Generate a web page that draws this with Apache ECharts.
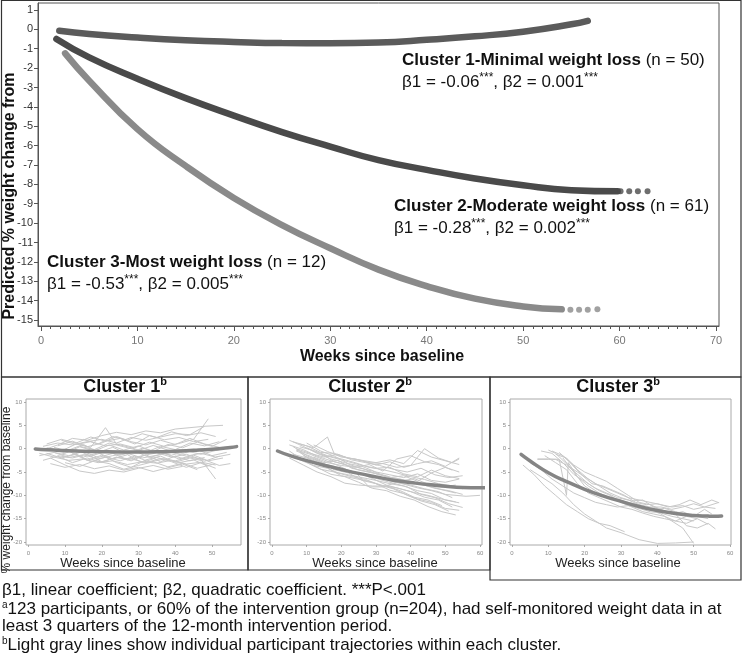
<!DOCTYPE html>
<html><head><meta charset="utf-8">
<script src="https://cdn.jsdelivr.net/npm/echarts@6/dist/echarts.min.js"></script>
<style>html,body{margin:0;padding:0;background:#fff}#c{width:742px;height:662px}</style>
</head><body><div id="c"></div>
<script>
const FONT = '"Liberation Sans", Arial, Helvetica, sans-serif';

// ---- Main panel: predicted trajectories ----
const c1Weeks = [1.9, 5, 10, 15, 20, 25, 30, 35, 40, 45, 50, 55, 56.7];
const c1Pred  = [-0.07, -0.24, -0.42, -0.56, -0.65, -0.71, -0.72, -0.68, -0.54, -0.36, -0.12, 0.26, 0.44];
const c2Weeks = [1.6, 5, 10, 15, 20, 25, 30, 35, 40, 45, 50, 55, 59.8];
const c2Pred  = [-0.5, -1.45, -2.55, -3.55, -4.45, -5.3, -6.05, -6.75, -7.25, -7.7, -8.05, -8.3, -8.36];
const c2EndWeeks = [60.1, 61.0, 61.9, 62.9];
const c2EndPred  = [-8.36, -8.36, -8.36, -8.36];
const c3Weeks = [2.5, 5, 10, 15, 20, 25, 30, 35, 40, 45, 50, 54];
const c3Pred  = [-1.24, -2.65, -5.15, -7.05, -8.7, -10.1, -11.3, -12.4, -13.25, -13.9, -14.3, -14.45];
const c3EndWeeks = [54.9, 55.8, 56.7, 57.7];
const c3EndPred  = [-14.47, -14.47, -14.47, -14.45];

const mainXTicks = [0, 10, 20, 30, 40, 50, 60, 70];
const mainYTicks = [1, 0, -1, -2, -3, -4, -5, -6, -7, -8, -9, -10, -11, -12, -13, -14, -15];
const smallYTicks = [10, 5, 0, -5, -10, -15, -20];
const small1XTicks = [0, 10, 20, 30, 40, 50];
const small23XTicks = [0, 10, 20, 30, 40, 50, 60];

// ---- Individual participant trajectories ([week, % change]) ----
const c1Traj = [
 [[4,0.5],[8,1.2],[12,0.8],[16,1.5],[20,2.0],[24,1.2],[28,2.4],[32,1.8],[36,2.5],[40,3.2],[44,3.0],[48,4.8]],
 [[3,-1.0],[7,-1.8],[11,-2.5],[15,-2.2],[19,-3.0],[23,-2.6],[27,-3.4],[31,-2.8],[35,-3.1],[39,-2.5],[43,-3.3],[47,-2.9],[51,-3.5]],
 [[5,0.2],[9,-0.5],[13,1.0],[17,0.3],[21,4.5],[24,1.0],[28,0.2],[32,-0.8],[36,0.5],[40,-0.2],[44,1.2],[48,0.6],[52,1.5]],
 [[6,-2.0],[10,-3.5],[14,-4.8],[18,-5.3],[22,-4.6],[26,-5.0],[30,-4.2],[34,-3.6],[38,-4.4],[42,-3.8]],
 [[4,-0.3],[8,0.8],[12,2.2],[16,1.8],[20,2.8],[24,3.5],[28,3.0],[32,3.8],[36,3.4],[40,4.2],[44,4.5],[48,4.8],[53,5.0]],
 [[8,-1.5],[12,-2.0],[16,-1.2],[20,-2.8],[24,-1.9],[28,-2.2],[32,-3.0],[36,-2.1],[40,-2.6],[44,-1.8],[48,-2.4],[52,-3.6],[55,-3.2]],
 [[5,1.0],[9,2.0],[13,1.2],[17,2.5],[21,1.6],[25,2.2],[29,1.0],[33,2.8],[37,1.9],[41,2.4],[45,1.5],[49,2.0]],
 [[7,-0.8],[11,-1.5],[15,-0.6],[19,-1.9],[23,-1.0],[27,-2.4],[31,-1.5],[35,-0.9],[39,-1.8],[43,-1.2],[47,-2.3],[51,-6.5]],
 [[10,-3.0],[14,-3.8],[18,-2.6],[22,-3.2],[26,-4.4],[30,-3.6],[34,-2.8],[38,-3.9],[42,-3.1],[46,-4.2],[50,-3.4]],
 [[6,0.0],[10,-0.9],[14,0.4],[18,-0.5],[22,0.8],[26,-0.3],[30,0.6],[34,-0.6],[38,0.9],[42,0.2],[46,1.4],[50,0.5],[54,2.0]],
 [[9,1.8],[13,0.9],[17,1.5],[21,0.6],[25,1.0],[29,0.2],[33,1.4],[37,0.5],[41,1.1],[45,2.0],[49,6.4]],
 [[3,-1.5],[7,-0.8],[11,-1.9],[15,-1.3],[19,-2.2],[23,-1.5],[27,-1.0],[31,-2.0],[35,-1.4],[39,-0.8],[43,-1.6],[47,-1.0],[51,-1.8],[55,-1.2]],
 [[12,-1.0],[16,-2.5],[20,-1.4],[24,-3.0],[28,-4.0],[32,-2.4],[36,-1.6],[40,-2.9],[44,-2.0],[48,-2.7],[52,-1.6]],
 [[14,0.5],[18,-0.2],[22,1.2],[26,0.4],[30,-0.4],[34,0.7],[38,-0.3],[42,-1.0],[46,-0.2],[50,-1.5],[54,-0.8]],
 [[5,-1.0],[9,-2.0],[13,-1.2],[17,-2.8],[21,-1.8],[25,-2.6],[29,-1.6],[33,-2.9],[37,-2.2],[41,-3.0],[45,-2.4],[49,-3.8]],
 [[8,0.6],[12,1.6],[16,0.4],[20,1.2],[24,2.6],[28,1.5],[32,0.8],[36,1.8],[40,0.9],[44,2.2],[48,1.0],[52,0.3]],
 [[4,-2.5],[8,-1.6],[12,-3.0],[16,-2.0],[20,-2.9],[24,-1.8],[28,-2.6],[32,-1.3],[36,-2.8],[40,-1.6],[44,-2.6],[48,-1.9]],
 [[11,-0.3],[15,0.9],[19,-0.8],[23,0.3],[27,-1.2],[31,0.1],[35,-0.7],[39,-1.4],[43,-0.5],[47,-1.2],[51,-0.4],[55,0.4]],
 [[6,-3.2],[10,-4.0],[14,-3.4],[18,-4.3],[22,-3.7],[26,-4.6],[30,-4.0],[34,-4.9],[38,-4.1],[42,-3.3],[46,-4.5]],
 [[15,2.0],[19,1.0],[23,2.6],[27,1.8],[31,3.2],[35,2.4],[39,3.6],[43,2.8],[47,3.4],[51,2.6]],
 [[9,-1.2],[13,-0.2],[17,-1.6],[21,-0.6],[25,-1.4],[29,-0.5],[33,-1.9],[37,-1.0],[41,-2.2],[45,-1.4],[49,-2.6],[53,-2.0]],
 [[7,0.3],[11,-0.6],[15,-1.8],[19,-0.9],[23,-2.2],[27,-1.3],[31,-3.0],[35,-1.9],[39,-2.8],[43,-4.0],[47,-3.0],[51,-4.2]]
];
const c2Traj = [
 [[5,1.8],[9,0.5],[13,-1.0],[17,-2.2],[21,-3.0],[25,-4.1],[29,-4.8],[33,-6.0],[37,-6.5],[41,-7.4],[45,-8.0],[49,-8.8],[53,-9.5]],
 [[6,0.5],[10,-1.5],[14,-2.8],[18,-4.5],[22,-5.2],[26,-6.8],[30,-7.5],[34,-8.9],[38,-9.6],[42,-10.8],[46,-11.5],[50,-12.8],[54,-13.2]],
 [[8,1.0],[12,0.2],[16,2.5],[18,-1.2],[22,-2.0],[26,-2.6],[30,-3.5],[34,-2.8],[38,-4.0],[42,-3.2],[46,-2.6],[50,-3.8],[54,-2.0]],
 [[4,-1.0],[8,-2.2],[12,-3.6],[16,-4.2],[20,-5.8],[24,-6.4],[28,-7.0],[32,-7.9],[36,-8.4],[40,-9.2],[44,-10.4],[48,-11.0],[52,-12.5]],
 [[7,0.0],[11,-1.0],[15,-1.8],[19,-1.2],[23,-2.4],[27,-3.0],[31,-3.6],[35,-4.4],[39,-5.0],[43,-4.2],[47,-5.6],[51,-6.2],[55,-5.8]],
 [[5,-0.5],[9,-2.5],[13,-4.0],[17,-5.5],[21,-6.0],[25,-7.2],[29,-8.5],[33,-9.0],[37,-10.2],[41,-11.0],[45,-12.4],[49,-13.5],[53,-14.2]],
 [[10,1.2],[14,-0.5],[18,-1.6],[22,-3.2],[26,-3.8],[30,-5.0],[34,-5.6],[38,-6.2],[42,-5.4],[46,-6.8],[50,-7.2],[54,-6.5]],
 [[6,-1.2],[10,-2.0],[14,-3.1],[18,-3.8],[22,-4.6],[26,-5.5],[30,-6.0],[34,-6.9],[38,-7.6],[42,-8.4],[46,-9.0],[50,-9.8],[56,-10.2],[60,-10.0]],
 [[8,-0.8],[12,-2.8],[16,-3.5],[20,-4.4],[24,-5.0],[28,-8.2],[32,-8.2],[36,-7.2],[40,-7.8],[44,-8.6],[48,-9.2],[52,-10.5]],
 [[5,0.8],[9,-0.2],[13,-1.6],[17,-2.6],[21,-3.4],[25,-4.6],[29,-5.2],[33,-5.8],[37,-7.0],[41,-6.4],[45,-7.6],[49,-8.2],[53,-7.8]],
 [[12,-1.8],[16,-3.0],[20,-3.6],[24,-4.0],[28,-3.4],[32,-4.8],[36,-2.2],[40,-1.5],[44,-2.8],[48,-3.4],[52,-4.6]],
 [[7,-0.3],[11,-1.2],[15,-2.4],[19,-3.6],[23,-5.0],[27,-5.6],[31,-6.6],[35,-7.4],[39,-8.2],[43,-9.8],[47,-10.5],[51,-11.8],[55,-12.6]],
 [[9,-1.5],[13,-2.6],[17,-4.0],[21,-4.8],[25,-5.2],[29,-6.4],[33,-7.8],[37,-8.6],[41,-9.4],[45,-10.0],[49,-10.8],[53,-11.4]],
 [[6,1.5],[10,0.6],[14,-0.8],[18,-1.0],[22,-2.0],[26,-2.5],[30,-3.0],[34,-2.4],[38,-3.2],[42,-0.4],[46,-1.8],[50,-2.6],[54,-3.4]],
 [[11,-2.4],[15,-3.8],[19,-5.2],[23,-6.0],[27,-6.6],[31,-7.8],[35,-8.6],[39,-10.0],[43,-11.2],[47,-12.0],[51,-13.4]],
 [[8,0.4],[12,-0.4],[16,-1.5],[20,-2.2],[24,-3.0],[28,-4.0],[32,-4.5],[36,-5.2],[40,-6.0],[44,-6.6],[48,-7.5],[52,-8.0],[55,-8.6]],
 [[14,-1.0],[18,-2.8],[22,-3.6],[26,-4.2],[30,-5.4],[34,-6.2],[38,-5.8],[42,-7.0],[46,-5.2],[50,-4.0],[54,-5.0]],
 [[5,-2.0],[9,-3.5],[13,-5.0],[17,-6.0],[21,-7.4],[25,-7.8],[29,-8.0],[33,-8.0],[37,-9.0],[41,-10.4],[45,-11.0],[49,-12.2]],
 [[7,-0.5],[11,-1.6],[15,-3.0],[19,-2.5],[23,-4.2],[27,-4.8],[31,-5.5],[35,-6.4],[39,-6.8],[43,-7.6],[47,-8.5],[51,-9.0],[55,-9.8]],
 [[10,0.2],[14,-1.2],[18,-2.0],[22,-2.8],[26,-3.6],[30,-4.2],[34,-4.0],[38,-5.4],[42,-6.0],[46,-4.6],[50,-5.8],[54,-6.4]],
 [[12,0.8],[16,-0.6],[20,-1.8],[24,-2.2],[28,-3.0],[32,-3.2],[36,-4.0],[40,-3.6],[44,0.0],[48,-2.0],[52,-3.0],[54,-2.2]],
 [[6,-1.8],[10,-3.0],[14,-4.4],[18,-5.0],[22,-5.6],[26,-6.2],[30,-6.8],[34,-7.5],[38,-8.0],[42,-9.0],[46,-9.6],[50,-11.0],[54,-11.6]]
];
const c3Traj = [
 [[3,-3.5],[6,-5.5],[9,-8.0],[12,-10.0],[15,-12.0],[18,-13.5],[21,-15.0],[24,-16.0],[27,-16.5],[31,-17.8]],
 [[5,-4.5],[8,-6.0],[11,-7.5],[14,-9.5],[17,-12.0],[20,-14.0],[23,-15.5],[26,-17.0],[30,-18.0],[35,-19.5],[40,-20.3],[45,-20.2],[50,-20.0]],
 [[8,-0.5],[11,-1.0],[14,-3.0],[17,-5.5],[20,-7.0],[23,-8.5],[26,-9.5],[29,-10.5],[32,-11.0],[35,-12.0],[38,-13.0],[41,-14.0],[44,-15.5],[47,-17.0],[50,-20.3]],
 [[7,-2.2],[10,-2.2],[13,-2.3],[15,-10.0],[15.5,-3.0],[18,-6.0],[21,-8.0],[24,-9.5],[27,-10.5],[30,-11.0],[33,-12.0],[36,-12.5],[39,-13.0],[42,-12.8],[45,-13.5],[48,-14.0],[51,-14.5],[54,-15.0]],
 [[10,-0.3],[12,-1.0],[14,-2.5],[16,-4.0],[18,-5.0],[20,-6.0],[23,-7.5],[26,-8.5],[29,-9.5],[32,-10.5],[35,-11.0],[38,-11.5],[41,-12.0],[44,-12.5],[47,-12.2],[50,-13.0],[53,-12.5],[56,-12.8]],
 [[12,-1.2],[15,-2.0],[18,-4.5],[21,-6.5],[24,-8.0],[27,-9.5],[30,-10.5],[33,-11.2],[36,-11.0],[39,-12.5],[42,-13.5],[45,-14.0],[48,-16.5],[51,-17.0],[54,-16.0],[56,-17.2]],
 [[13,-0.8],[16,-3.0],[19,-5.5],[22,-7.5],[25,-8.0],[28,-9.0],[31,-10.0],[34,-11.5],[37,-12.0],[40,-11.8],[43,-12.5],[46,-12.0],[49,-11.0],[52,-12.0],[55,-11.0],[57,-11.6]],
 [[7,-2.3],[10,-2.3],[12,-2.3],[15,-3.5],[18,-5.5],[21,-7.5],[24,-9.0],[27,-10.0],[30,-11.5],[33,-12.5],[36,-13.5],[39,-14.0],[42,-14.5],[45,-15.5],[48,-16.0],[51,-15.0],[54,-16.2]],
 [[9,-1.5],[12,-3.0],[15,-4.5],[18,-7.5],[21,-9.5],[24,-10.5],[27,-11.5],[30,-12.5],[33,-13.0],[36,-13.8],[39,-14.5],[42,-15.0],[45,-15.5],[48,-14.5],[51,-15.0]],
 [[11,-0.5],[14,-1.5],[17,-3.5],[20,-5.0],[23,-6.0],[26,-7.0],[29,-8.5],[32,-10.0],[35,-11.5],[38,-12.0],[41,-13.0],[44,-14.0],[47,-13.5],[50,-14.5],[53,-13.0],[55,-14.0]],
 [[5,-3.0],[8,-4.5],[11,-6.5],[14,-8.0],[17,-9.5],[20,-10.5],[23,-11.5],[26,-12.0],[29,-12.5],[32,-12.2],[35,-12.8],[38,-13.5],[41,-13.8],[44,-14.5],[47,-15.0],[50,-15.5]],
 [[14,-2.0],[17,-5.0],[20,-8.0],[23,-9.5],[26,-10.5],[29,-11.0],[32,-11.5],[35,-12.0],[38,-12.5],[41,-12.5],[44,-13.0],[47,-12.5],[50,-11.8],[53,-12.5],[57,-11.5]]
];

const zip = (xs, ys) => xs.map((x, i) => [x, ys[i]]);

const chart = echarts.init(document.getElementById('c'), null, {renderer: 'canvas'});

function mainX(idx, ticks, len, showLine, showLabel) {
  return {
    type: 'value', gridIndex: 0, min: -0.31, max: 70.31, position: 'bottom',
    axisLine: {show: showLine, onZero: false, lineStyle: {color: '#555', width: 1}},
    axisTick: {show: true, customValues: ticks, length: len, lineStyle: {color: '#555', width: 1}},
    axisLabel: {show: showLabel, customValues: ticks, color: '#777', fontSize: 11, fontFamily: FONT, margin: 9},
    splitLine: {show: false}
  };
}
function smallX(g, min, max, ticks) {
  return {
    type: 'value', gridIndex: g, min: min, max: max, position: 'bottom',
    axisLine: {show: false, onZero: false},
    axisTick: {show: true, customValues: ticks, length: 2, lineStyle: {color: '#999', width: 0.8}},
    axisLabel: {show: true, customValues: ticks, color: '#888', fontSize: 6, fontFamily: FONT, margin: 5},
    splitLine: {show: false}
  };
}
function smallY(g) {
  return {
    type: 'value', gridIndex: g, min: -20.64, max: 10.64,
    axisLine: {show: false, onZero: false},
    axisTick: {show: true, customValues: smallYTicks, length: 2, lineStyle: {color: '#999', width: 0.8}},
    axisLabel: {show: true, customValues: smallYTicks, color: '#888', fontSize: 6, fontFamily: FONT, margin: 4},
    splitLine: {show: false}
  };
}

const minorTicks = [];
for (let w = 0; w <= 70; w++) minorTicks.push(w);

const series = [];
function addTraj(list, xi, yi) {
  list.forEach(d => series.push({
    type: 'line', xAxisIndex: xi, yAxisIndex: yi, data: d, showSymbol: false, silent: true,
    lineStyle: {color: '#c8c8c8', width: 1}, z: 2
  }));
}
addTraj(c1Traj, 2, 1);
addTraj(c2Traj, 3, 2);
addTraj(c3Traj, 4, 3);

function fitted(xi, yi, data, color, width) {
  series.push({type: 'line', xAxisIndex: xi, yAxisIndex: yi, data: data, smooth: true, showSymbol: false,
    silent: true, lineStyle: {color: color, width: width, cap: 'round'}, z: 4});
}
function dots(xi, yi, data, color, size) {
  series.push({type: 'scatter', xAxisIndex: xi, yAxisIndex: yi, data: data, symbol: 'circle',
    symbolSize: size, itemStyle: {color: color}, silent: true, z: 4});
}
// main panel
fitted(0, 0, zip(c1Weeks, c1Pred), '#5b5b5b', 6.5);
fitted(0, 0, zip(c2Weeks, c2Pred), '#4a4a4a', 6.5);
dots(0, 0, zip(c2EndWeeks, c2EndPred), '#4a4a4a', 6);
fitted(0, 0, zip(c3Weeks, c3Pred), '#8a8a8a', 6.5);
dots(0, 0, zip(c3EndWeeks, c3EndPred), '#8a8a8a', 6);
// small panels
fitted(2, 1, zip(c1Weeks, c1Pred), '#858585', 3.5);
fitted(3, 2, zip(c2Weeks.concat(c2EndWeeks), c2Pred.concat(c2EndPred)), '#858585', 3.5);
fitted(4, 3, zip(c3Weeks.concat(c3EndWeeks), c3Pred.concat(c3EndPred)), '#858585', 3.5);

const richAnn = {
  b: {fontFamily: FONT, fontWeight: 'bold', fontSize: 17, fill: '#111', lineHeight: 20},
  n: {fontFamily: FONT, fontSize: 17, fill: '#111', lineHeight: 20},
  s: {fontFamily: FONT, fontSize: 12, fill: '#111', lineHeight: 20, verticalAlign: 'top'}
};
function ann(x, y, l1, l2) {
  return [
    {type: 'text', left: x, top: y, style: {text: l1, rich: richAnn}, z: 10},
    {type: 'text', left: x, top: y + 20, style: {text: l2, rich: richAnn}, z: 10}
  ];
}
function title(cx, txt) {
  return {type: 'text', x: cx, y: 387, z: 10, style: {text: '{t|' + txt + '}{s|b}', align: 'center', verticalAlign: 'middle',
    rich: {t: {fontFamily: FONT, fontWeight: 'bold', fontSize: 18, fill: '#111', lineHeight: 22},
           s: {fontFamily: FONT, fontWeight: 'bold', fontSize: 11, fill: '#111', lineHeight: 22, verticalAlign: 'top'}}}};
}
function smallXTitle(cx) {
  return {type: 'text', x: cx, y: 563, z: 10, style: {text: 'Weeks since baseline', align: 'center', verticalAlign: 'middle',
    font: '13px ' + FONT, fill: '#222'}};
}
const foot = [
  '{n|β1, linear coefficient; β2, quadratic coefficient. ***P<.001}',
  '{s|a}{n|123 participants, or 60% of the intervention group (n=204), had self-monitored weight data in at}',
  '{n|least 3 quarters of the 12-month intervention period.}',
  '{s|b}{n|Light gray lines show individual participant trajectories within each cluster.}'
];
const footY = [591, 609, 627, 645];
const footRich = {
  n: {fontFamily: FONT, fontSize: 17, fill: '#111', lineHeight: 18},
  s: {fontFamily: FONT, fontSize: 10, fill: '#111', lineHeight: 18, verticalAlign: 'top'}
};

const graphic = [
  {type: 'rect', shape: {x: 1.5, y: 0.5, width: 739.5, height: 376.5}, style: {fill: 'none', stroke: '#333', lineWidth: 1.2}, z: 0},
  {type: 'rect', shape: {x: 1.5, y: 377, width: 246.5, height: 193}, style: {fill: 'none', stroke: '#333', lineWidth: 1.2}, z: 0},
  {type: 'rect', shape: {x: 248, y: 377, width: 242, height: 193}, style: {fill: 'none', stroke: '#333', lineWidth: 1.2}, z: 0},
  {type: 'rect', shape: {x: 490, y: 377, width: 251, height: 203}, style: {fill: 'none', stroke: '#333', lineWidth: 1.2}, z: 0},
  {type: 'text', x: 10, y: 196, rotation: Math.PI / 2, z: 10,
    style: {text: 'Predicted % weight change from', align: 'center', verticalAlign: 'middle', font: 'bold 16px ' + FONT, fill: '#111'}},
  {type: 'text', x: 382, y: 357, z: 10,
    style: {text: 'Weeks since baseline', align: 'center', verticalAlign: 'middle', font: 'bold 16px ' + FONT, fill: '#111'}},
  ...ann(402, 52, '{b|Cluster 1-Minimal weight loss}{n| (n = 50)}', '{n|β1 = -0.06}{s|***}{n|, β2 = 0.001}{s|***}'),
  ...ann(394, 198, '{b|Cluster 2-Moderate weight loss}{n| (n = 61)}', '{n|β1 = -0.28}{s|***}{n|, β2 = 0.002}{s|***}'),
  ...ann(47, 254, '{b|Cluster 3-Most weight loss}{n| (n = 12)}', '{n|β1 = -0.53}{s|***}{n|, β2 = 0.005}{s|***}'),
  title(125, 'Cluster 1'), title(370, 'Cluster 2'), title(618, 'Cluster 3'),
  smallXTitle(123), smallXTitle(375), smallXTitle(618),
  {type: 'text', x: 7, y: 490, rotation: Math.PI / 2, z: 10,
    style: {text: '% weight change from baseline', align: 'center', verticalAlign: 'middle', font: '12px ' + FONT, fill: '#222'}},
  ...foot.map((t, i) => ({type: 'text', left: 2, top: footY[i] - 9, z: 10, style: {text: t, rich: footRich}}))
];

chart.setOption({
  animation: false,
  backgroundColor: '#fff',
  grid: [
    {left: 38, top: 3, width: 681, height: 323, show: true, borderColor: '#555', borderWidth: 1, containLabel: false},
    {left: 26, top: 399, width: 215, height: 146, show: true, borderColor: '#aaa', borderWidth: 1},
    {left: 270, top: 399, width: 212, height: 146, show: true, borderColor: '#aaa', borderWidth: 1},
    {left: 510, top: 399, width: 221, height: 146, show: true, borderColor: '#aaa', borderWidth: 1}
  ],
  xAxis: [
    mainX(0, mainXTicks, 5, true, true),
    mainX(0, minorTicks, 3, false, false),
    smallX(1, -0.63, 57.9, small1XTicks),
    smallX(2, -0.58, 60.58, small23XTicks),
    smallX(3, -0.55, 60.28, small23XTicks)
  ],
  yAxis: [
    {type: 'value', gridIndex: 0, min: -15.31, max: 1.36,
      axisLine: {show: true, onZero: false, lineStyle: {color: '#555'}},
      axisTick: {show: true, customValues: mainYTicks, length: 4, lineStyle: {color: '#555'}},
      axisLabel: {show: true, customValues: mainYTicks, color: '#333', fontSize: 11, fontFamily: FONT, margin: 5},
      splitLine: {show: false}},
    smallY(1), smallY(2), smallY(3)
  ],
  series: series,
  graphic: graphic
});
</script>
</body></html>
